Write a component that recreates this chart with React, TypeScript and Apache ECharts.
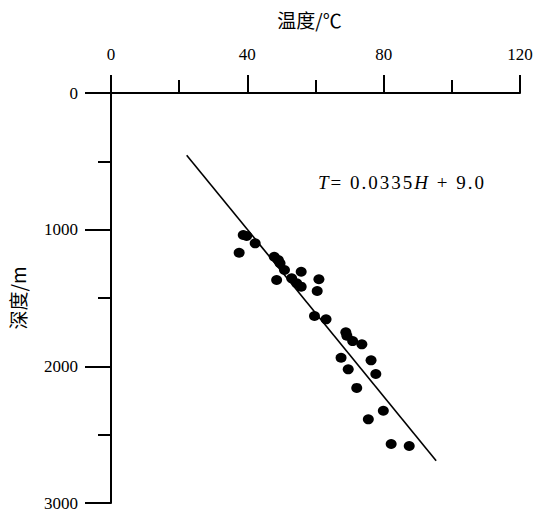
import React, { useEffect, useRef } from "react";
import * as echarts from "echarts";

// Measured points: temperature (°C) and depth (m)
const temperature = [
  38.8, 39.8, 42.3, 37.6, 47.9, 49.1, 49.6, 50.9, 55.8, 48.6,
  53.0, 54.5, 55.8, 61.0, 60.5, 59.7, 63.1, 68.9, 69.2, 70.9,
  73.6, 67.5, 76.3, 69.6, 77.7, 72.1, 79.9, 75.5, 82.2, 87.5,
];
const depth = [
  1039, 1046, 1100, 1169, 1198, 1222, 1246, 1295, 1308, 1368,
  1356, 1392, 1417, 1363, 1449, 1632, 1656, 1751, 1776, 1815,
  1839, 1937, 1956, 2022, 2056, 2158, 2325, 2388, 2568, 2583,
];
// Regression line endpoints (temperature, depth)
const fitTemperature = [22.2, 95.4];
const fitDepth = [455, 2690];

const xTitle = "温度/℃";
const yTitle = "深度/m";
const equation = [
  { t: "T", italic: true },
  { t: "=", italic: false },
  { t: " ", italic: false },
  { t: "0", italic: false },
  { t: ".", italic: false },
  { t: "0", italic: false },
  { t: "3", italic: false },
  { t: "3", italic: false },
  { t: "5", italic: false },
  { t: "H", italic: true },
  { t: " ", italic: false },
  { t: "+", italic: false },
  { t: " ", italic: false },
  { t: "9", italic: false },
  { t: ".", italic: false },
  { t: "0", italic: false },
];

export default function App() {
  const ref = useRef<HTMLDivElement>(null);
  useEffect(() => {
    if (!ref.current) return;
    const chart = echarts.init(ref.current, undefined, { renderer: "svg" });
    const serif = "Liberation Serif";
    const cjk = "Noto Sans CJK SC";
    const black = "#000";
    const eqText = equation.map((c) => `{${c.italic ? "i" : "n"}|${c.t}}`).join("");
    chart.setOption({
      animation: false,
      backgroundColor: "#fff",
      grid: { left: 111, right: 13, top: 93, bottom: 9, outerBoundsMode: "none", containLabel: false },
      xAxis: {
        type: "value",
        position: "top",
        min: 0,
        max: 120,
        interval: 40,
        name: xTitle,
        nameLocation: "middle",
        nameGap: 64,
        nameTextStyle: { fontSize: 19, color: black, fontFamily: cjk, padding: [0, 12, 0, 0] },
        axisLine: { show: true, onZero: false, lineStyle: { color: black, width: 2 } },
        axisTick: { show: true, length: 18, lineStyle: { color: black, width: 2 } },
        minorTick: { show: true, splitNumber: 2, length: 13, lineStyle: { color: black, width: 2 } },
        splitLine: { show: false },
        minorSplitLine: { show: false },
        axisLabel: { margin: 30, fontSize: 17, color: black, fontFamily: serif, formatter: (v: number) => String(v) },
      },
      yAxis: {
        type: "value",
        inverse: true,
        min: 0,
        max: 3000,
        interval: 1000,
        name: yTitle,
        nameLocation: "middle",
        nameGap: 84,
        nameRotate: 90,
        nameTextStyle: { fontSize: 19, color: black, fontFamily: cjk },
        axisLine: { show: true, onZero: false, lineStyle: { color: black, width: 2 } },
        axisTick: { show: true, length: 26, lineStyle: { color: black, width: 2 } },
        minorTick: { show: true, splitNumber: 2, length: 13, lineStyle: { color: black, width: 2 } },
        splitLine: { show: false },
        minorSplitLine: { show: false },
        axisLabel: { margin: 33, fontSize: 17, color: black, fontFamily: serif, formatter: (v: number) => String(v) },
      },
      series: [
        {
          type: "line",
          data: fitTemperature.map((t, i) => [t, fitDepth[i]]),
          symbol: "none",
          lineStyle: { color: black, width: 1.6 },
          z: 2,
        },
        {
          type: "scatter",
          data: temperature.map((t, i) => [t, depth[i]]),
          symbol: "circle",
          symbolSize: [11, 10],
          itemStyle: { color: black, opacity: 1 },
          z: 3,
        },
      ],
      graphic: [
        {
          type: "text",
          left: 318,
          top: 173,
          style: {
            text: eqText,
            rich: {
              i: { fontSize: 19, fontStyle: "italic", fontFamily: serif, fill: black, padding: [0, 1] },
              n: { fontSize: 19, fontFamily: serif, fill: black, padding: [0, 1] },
            },
          },
        },
      ],
    });
    return () => chart.dispose();
  }, []);
  return (
    <div
      ref={ref}
      style={{ position: "fixed", left: 0, top: 0, width: 533, height: 512 }}
    />
  );
}
